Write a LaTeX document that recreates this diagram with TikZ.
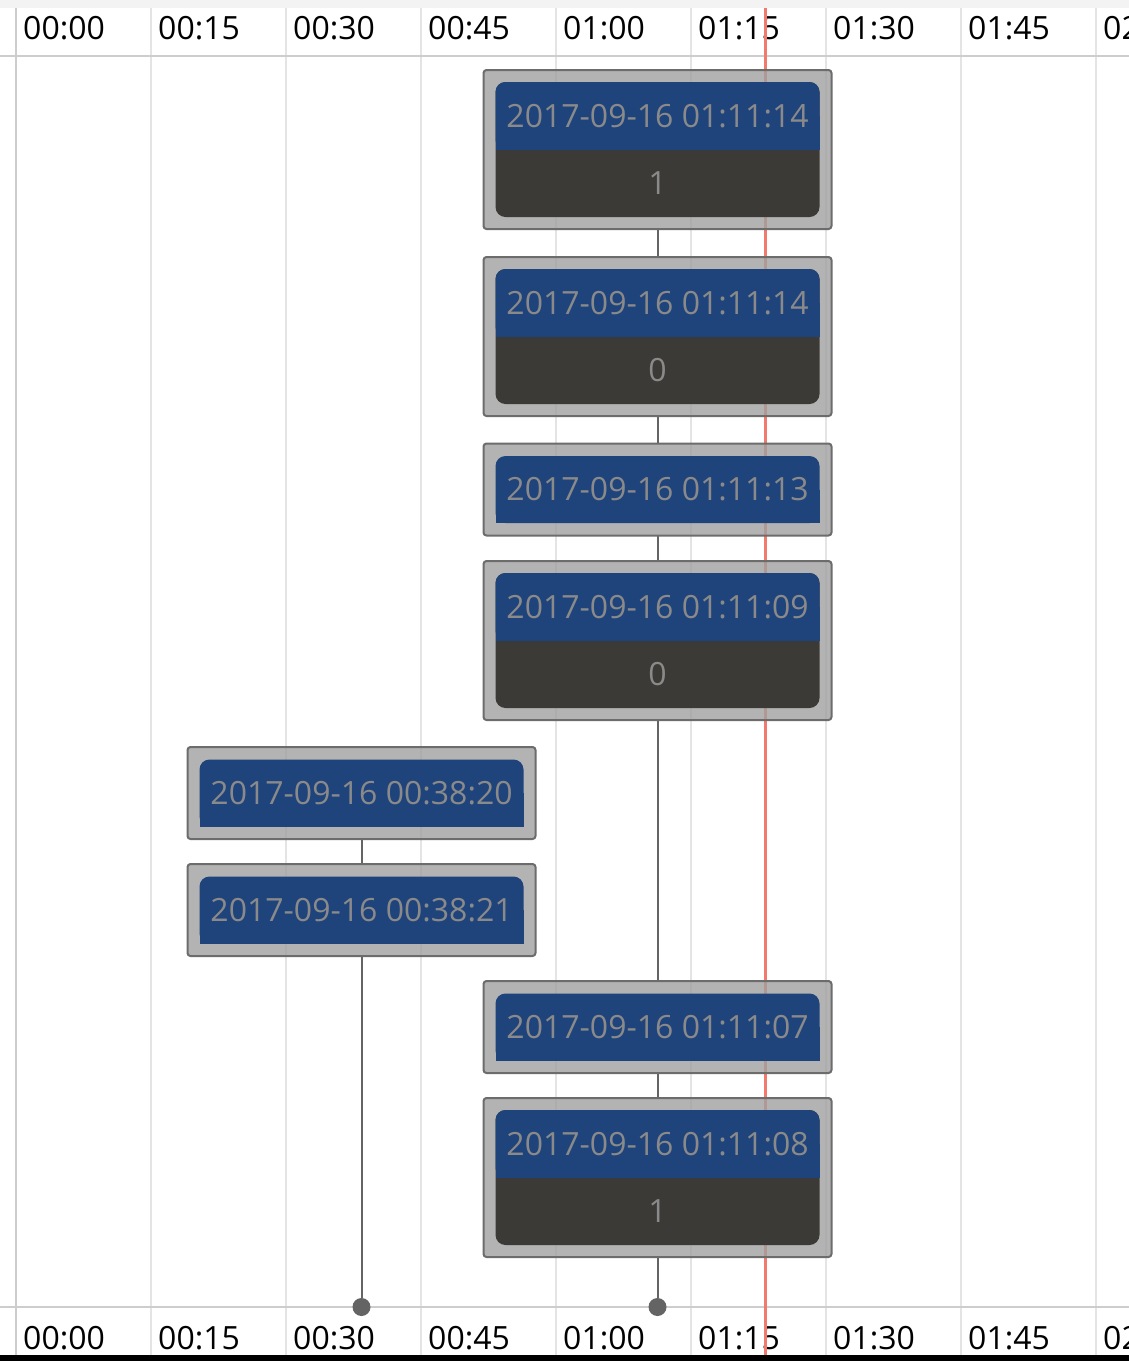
\documentclass[tikz,border=0pt]{standalone}
\usepackage{fontspec}
\setmainfont{Open Sans}
\usetikzlibrary{backgrounds}
\definecolor{hdrblue}{RGB}{31,67,123}
\definecolor{bodydark}{RGB}{59,58,54}
\definecolor{txtgray}{RGB}{138,138,138}
\definecolor{framefill}{RGB}{160,160,160}
\definecolor{framedraw}{RGB}{108,108,108}
\definecolor{gridc}{RGB}{228,228,228}
\definecolor{gridl}{RGB}{205,205,205}
\definecolor{redl}{RGB}{242,122,108}
\definecolor{connc}{RGB}{100,100,100}
\definecolor{topstrip}{RGB}{243,243,243}
\newcommand{\tallbox}[5]{%
  \node[frame, minimum height=159] (#1) at (#2,#3) {};
  \node[bodyfill] (#1b) at (#2,#3) {};
  \node[headfill, minimum height=68] (#1h) at (#2,#3-33.5) {};
  \fill[hdrblue] (#1h.west) rectangle (#1h.south east);
  \node[boxtext] (#1t) at (#1h) {#4};
  \node[boxtext] (#1v) at (#2,#3+34) {#5};
}
\newcommand{\shortbox}[4]{%
  \node[frame, minimum height=92] (#1) at (#2,#3) {};
  \node[headfill, minimum height=67] (#1h) at (#2,#3) {};
  \fill[hdrblue] (#1h.west) rectangle (#1h.south east);
  \node[boxtext] (#1t) at (#1h) {#4};
}
\begin{document}
\begin{tikzpicture}[x=1pt,y=-1pt,
  frame/.style={rectangle, draw=framedraw, line width=2pt, fill=framefill, fill opacity=0.8,
    rounded corners=3pt, minimum width=348, inner sep=0, outer sep=0},
  bodyfill/.style={rectangle, fill=bodydark, rounded corners=10pt, minimum width=324,
    minimum height=135, inner sep=0, outer sep=0},
  headfill/.style={rectangle, fill=hdrblue, rounded corners=10pt, minimum width=324,
    inner sep=0, outer sep=0},
  boxtext/.style={text=txtgray, font=\fontsize{32}{38}\selectfont, inner sep=0},
  axislabel/.style={text=black, font=\fontsize{32}{38}\selectfont, inner sep=0, anchor=base west},
  conn/.style={draw=connc, line width=2pt},
  dotnode/.style={circle, fill=connc, minimum size=18, inner sep=0}]
\useasboundingbox (0,0) rectangle (1129,1361);

\tallbox{f1}{657.5}{149.5}{2017-09-16 01:11:14}{1}
\tallbox{f2}{657.5}{336.5}{2017-09-16 01:11:14}{0}
\shortbox{f3}{657.5}{489.5}{2017-09-16 01:11:13}
\tallbox{f4}{657.5}{640.5}{2017-09-16 01:11:09}{0}
\shortbox{f5}{361.5}{793}{2017-09-16 00:38:20}
\shortbox{f6}{361.5}{910}{2017-09-16 00:38:21}
\shortbox{f7}{657.5}{1027}{2017-09-16 01:11:07}
\tallbox{f8}{657.5}{1177.5}{2017-09-16 01:11:08}{1}

\node[dotnode] (d1) at (361.5,1307) {};
\node[dotnode] (d2) at (657.5,1307) {};

\begin{scope}[on background layer]
  \clip (0,0) rectangle (1129,1361);
  \fill[white] (0,0) rectangle (1129,1361);
  \fill[topstrip] (0,0) rectangle (1129,8);
  \fill[black] (0,1355) rectangle (1129,1361);
  \foreach \gx in {151,286,421,556,691,826,961,1096}
    \draw[gridc, line width=2pt] (\gx,8) -- (\gx,1355);
  \draw[gridl, line width=2pt] (16,8) -- (16,1355);
  \draw[gridl, line width=2pt] (0,55.5) -- (1129,55.5);
  \draw[gridl, line width=2pt] (0,1306.5) -- (1129,1306.5);
  \foreach \t [count=\i from 0] in {00:00,00:15,00:30,00:45,01:00,01:15,01:30,01:45,02:00} {
    \node[axislabel] (tl\i) at (23+135*\i,39) {\t};
    \node[axislabel] (bl\i) at (23+135*\i,1349.5) {\t};
  }
  \draw[redl, line width=3pt] (765,8) -- (765,1355);
  \draw[conn] (f1) -- (f2);
  \draw[conn] (f2) -- (f3);
  \draw[conn] (f3) -- (f4);
  \draw[conn] (f4) -- (f7);
  \draw[conn] (f7) -- (f8);
  \draw[conn] (f8) -- (d2);
  \draw[conn] (f5) -- (f6);
  \draw[conn] (f6) -- (d1);
\end{scope}
\end{tikzpicture}
\end{document}
